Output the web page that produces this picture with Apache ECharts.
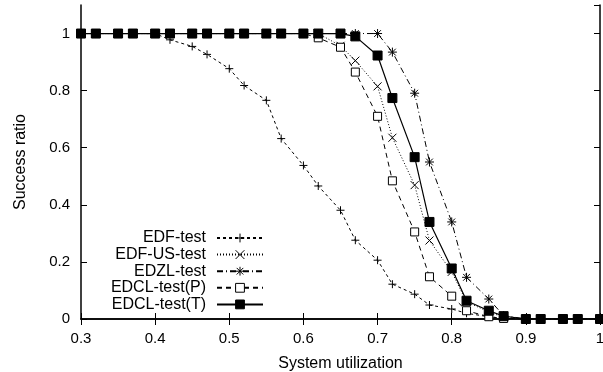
<!DOCTYPE html>
<html><head><meta charset="utf-8">
<script src="https://cdn.jsdelivr.net/npm/echarts@6/dist/echarts.min.js"></script>
<style>html,body{margin:0;padding:0;background:#fff}#c{width:603px;height:372px}</style>
</head><body><div id="c"></div>
<script>
var utilization = [0.3,0.32,0.35,0.37,0.4,0.42,0.45,0.47,0.5,0.52,0.55,0.57,0.6,0.62,0.65,0.67,0.7,0.72,0.75,0.77,0.8,0.82,0.85,0.87,0.9,0.92,0.95,0.97,1.0];
var seriesNames = ['EDF-test','EDF-US-test','EDZL-test','EDCL-test(P)','EDCL-test(T)'];
var edfTest   = [1,1,1,1,1,0.978,0.955,0.927,0.877,0.818,0.766,0.632,0.538,0.466,0.381,0.276,0.206,0.122,0.087,0.049,0.035,0.02,0.008,0.002,0,0,0,0,0];
var edfUsTest = [1,1,1,1,1,1,1,1,1,1,1,1,1,1,0.957,0.905,0.815,0.635,0.469,0.275,0.165,0.06,0.025,0.006,0,0,0,0,0];
var edzlTest  = [1,1,1,1,1,1,1,1,1,1,1,1,1,1,1,1,1,0.935,0.791,0.55,0.34,0.146,0.07,0.012,0,0,0,0,0];
var edclP     = [1,1,1,1,1,1,1,1,1,1,1,1,1,0.985,0.952,0.865,0.71,0.484,0.305,0.148,0.08,0.029,0.008,0.002,0,0,0,0,0];
var edclT     = [1,1,1,1,1,1,1,1,1,1,1,1,1,1,1,0.99,0.923,0.774,0.567,0.34,0.177,0.064,0.029,0.01,0,0,0,0,0];

function pairs(ys){ return utilization.map(function(x,i){ return [x, ys[i]]; }); }

var FONT = 'Liberation Sans, Arial, sans-serif';
var plus = 'path://M0,-1L0,1M-1,0L1,0';
var cross = 'path://M-1,-1L1,1M-1,1L1,-1';
var star = 'path://M0,-1L0,1M-1,0L1,0M-0.75,-0.75L0.75,0.75M-0.75,0.75L0.75,-0.75';

function mk(name, ys, symbol, size, dash, fill, lw){
  return {
    name: name, type: 'line', data: pairs(ys), symbol: symbol, symbolSize: size,
    showAllSymbol: true, animation: false,
    lineStyle: {color: '#000', width: lw || 1, type: dash},
    itemStyle: {color: fill, borderColor: '#000', borderWidth: 1},
    emphasis: {disabled: true}
  };
}

var chart = echarts.init(document.getElementById('c'));
var axisCommonX = {type: 'value', min: 0.3, max: 1.0, interval: 0.1,
  axisLine: {show: true, lineStyle: {color: '#000', width: 1.5}},
  axisTick: {show: true, inside: true, length: 6, lineStyle: {color: '#000', width: 1}},
  splitLine: {show: false}};
var axisCommonY = {type: 'value', min: 0, max: 1.1, interval: 0.2,
  axisLine: {show: true, lineStyle: {color: '#000', width: 1.5}},
  axisTick: {show: true, inside: true, length: 6, lineStyle: {color: '#000', width: 1}},
  splitLine: {show: false}};

chart.setOption({
  animation: false,
  grid: {left: 81, right: 3, top: 5, bottom: 53, containLabel: false, outerBoundsMode: 'none'},
  xAxis: [
    Object.assign({}, axisCommonX, {position: 'bottom', name: 'System utilization', nameLocation: 'middle', nameGap: 37,
      nameTextStyle: {fontFamily: FONT, fontSize: 16, color: '#000'},
      axisLabel: {fontFamily: FONT, fontSize: 15, color: '#000', margin: 12}}),
    Object.assign({}, axisCommonX, {position: 'top', axisLabel: {show: false}})
  ],
  yAxis: [
    Object.assign({}, axisCommonY, {position: 'left', name: 'Success ratio', nameLocation: 'middle', nameGap: 52,
      nameTextStyle: {fontFamily: FONT, fontSize: 16, color: '#000'},
      axisLabel: {fontFamily: FONT, fontSize: 15, color: '#000', margin: 11, showMaxLabel: false}}),
    Object.assign({}, axisCommonY, {position: 'right', axisLabel: {show: false}})
  ],
  legend: {
    orient: 'vertical', align: 'right', right: 339, top: 230, padding: 0,
    itemWidth: 46, itemHeight: 11, itemGap: 0.6,
    textStyle: {fontFamily: FONT, fontSize: 16, color: '#000', lineHeight: 16, padding: [0, 6, 0, 0]},
    itemStyle: {borderWidth: 1},
    data: seriesNames
  },
  series: [
    mk(seriesNames[0], edfTest, plus, 8, [3,3], '#000'),
    mk(seriesNames[1], edfUsTest, cross, 8, [1,2], '#000'),
    mk(seriesNames[2], edzlTest, star, 9, [6,3,1,3], '#000'),
    mk(seriesNames[3], edclP, 'rect', 8, [5,4], '#fff'),
    mk(seriesNames[4], edclT, 'rect', 9, 'solid', '#000', 1.2)
  ]
});
</script></body></html>
